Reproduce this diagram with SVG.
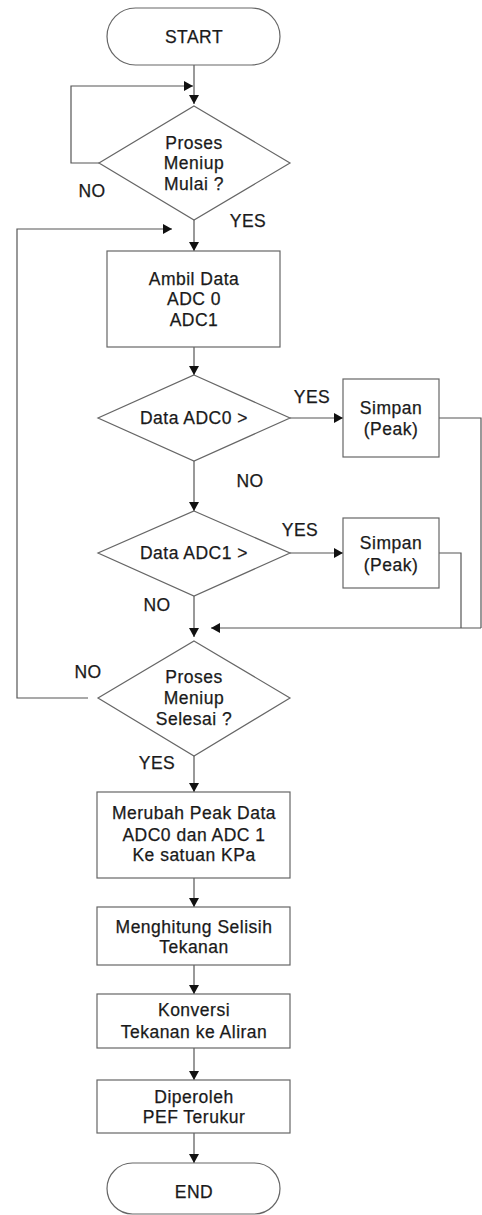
<svg xmlns="http://www.w3.org/2000/svg" width="482" height="1215" viewBox="0 0 482 1215">
<defs>
<marker id="arr" markerUnits="userSpaceOnUse" markerWidth="9" markerHeight="10" viewBox="0 0 9 10" refX="9" refY="5" orient="auto">
<path d="M0,0 L9,5 L0,10 z" fill="#111"/>
</marker>
</defs>
<style>
.s{fill:#fff;stroke:#666;stroke-width:1.2}
.c{fill:none;stroke:#555;stroke-width:1.2}
.a{marker-end:url(#arr)}
text{font-family:"Liberation Sans",Arial,sans-serif;font-size:17.5px;letter-spacing:0.5px;fill:#1a1a1a;stroke:#1a1a1a;stroke-width:0.25;text-anchor:middle}
</style>
<rect width="482" height="1215" fill="#fff"/>
<g id="connectors">
<line class="c a" x1="194" y1="65" x2="194" y2="104"/>
<polyline class="c a" points="99,163 71,163 71,86 193,86"/>
<line class="c a" x1="194" y1="220" x2="194" y2="251"/>
<polyline class="c a" points="88,698 17,698 17,229 172,229"/>
<line class="c a" x1="194" y1="347" x2="194" y2="375"/>
<line class="c a" x1="290" y1="418" x2="343" y2="418"/>
<polyline class="c" points="439,418 481,418 481,628"/>
<line class="c a" x1="194" y1="461" x2="194" y2="511"/>
<line class="c a" x1="290" y1="553" x2="343" y2="553"/>
<polyline class="c" points="439,553 461,553 461,628"/>
<line class="c a" x1="481" y1="628" x2="211" y2="628"/>
<line class="c a" x1="194" y1="596" x2="194" y2="637"/>
<line class="c a" x1="194" y1="756" x2="194" y2="792"/>
<line class="c a" x1="194" y1="878" x2="194" y2="907"/>
<line class="c a" x1="194" y1="965" x2="194" y2="994"/>
<line class="c a" x1="194" y1="1048" x2="194" y2="1080"/>
<line class="c a" x1="194" y1="1133" x2="194" y2="1163"/>
<text x="92" y="197">NO</text>
<text x="248" y="227">YES</text>
<text x="312" y="403">YES</text>
<text x="250" y="487">NO</text>
<text x="300" y="536">YES</text>
<text x="157" y="611">NO</text>
<text x="88" y="678">NO</text>
<text x="157" y="769">YES</text>
</g>
<g id="start">
<rect class="s" x="107" y="8" width="173" height="57" rx="28.5"/>
<text x="194" y="43">START</text>
</g>
<g id="d1">
<polygon class="s" points="194,106 290,163 194,220 99,163"/>
<text x="194" y="149">Proses</text>
<text x="194" y="169">Meniup</text>
<text x="194" y="190">Mulai ?</text>
</g>
<g id="ambil">
<rect class="s" x="107" y="251" width="173" height="96"/>
<text x="194" y="285">Ambil Data</text>
<text x="194" y="305">ADC 0</text>
<text x="194" y="326">ADC1</text>
</g>
<g id="d2">
<polygon class="s" points="194,375 290,418 194,461 98,418"/>
<text x="194" y="424">Data ADC0 &gt;</text>
</g>
<g id="simpan1">
<rect class="s" x="343" y="379" width="96" height="78"/>
<text x="391" y="414">Simpan</text>
<text x="391" y="435">(Peak)</text>
</g>
<g id="d3">
<polygon class="s" points="194,511 290,553 194,596 98,553"/>
<text x="194" y="559">Data ADC1 &gt;</text>
</g>
<g id="simpan2">
<rect class="s" x="343" y="518" width="96" height="70"/>
<text x="391" y="549">Simpan</text>
<text x="391" y="571">(Peak)</text>
</g>
<g id="d4">
<polygon class="s" points="194,641 290,698 194,756 98,698"/>
<text x="194" y="683">Proses</text>
<text x="194" y="704">Meniup</text>
<text x="194" y="725">Selesai ?</text>
</g>
<g id="merubah">
<rect class="s" x="97" y="792" width="193" height="86"/>
<text x="194" y="819">Merubah Peak Data</text>
<text x="194" y="841">ADC0 dan ADC 1</text>
<text x="194" y="861">Ke satuan KPa</text>
</g>
<g id="menghitung">
<rect class="s" x="97" y="907" width="193" height="58"/>
<text x="194" y="933">Menghitung Selisih</text>
<text x="194" y="953">Tekanan</text>
</g>
<g id="konversi">
<rect class="s" x="97" y="994" width="193" height="54"/>
<text x="194" y="1016">Konversi</text>
<text x="194" y="1038">Tekanan ke Aliran</text>
</g>
<g id="diperoleh">
<rect class="s" x="97" y="1080" width="193" height="53"/>
<text x="194" y="1103">Diperoleh</text>
<text x="194" y="1123">PEF Terukur</text>
</g>
<g id="end">
<rect class="s" x="107" y="1163" width="173" height="51" rx="25.5"/>
<text x="194" y="1198">END</text>
</g>
</svg>
